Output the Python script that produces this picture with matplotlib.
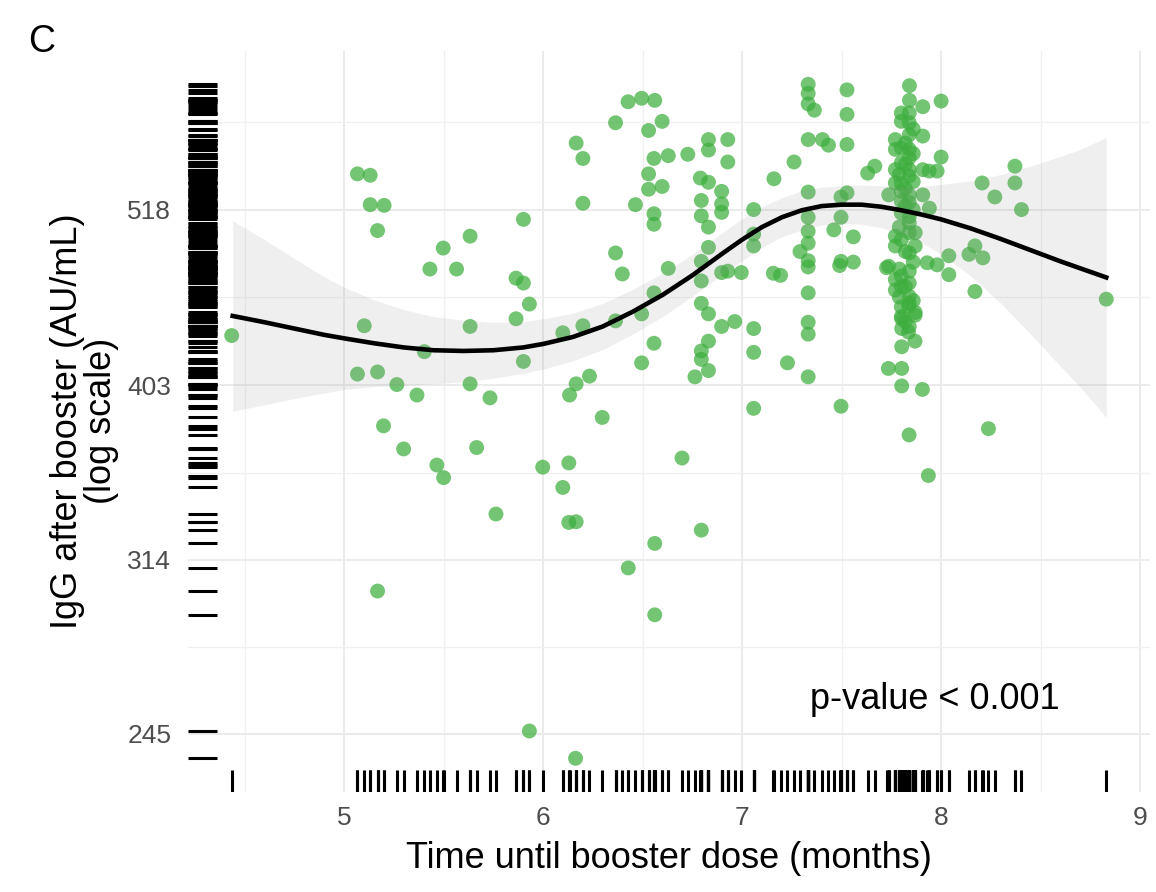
import numpy as np
import matplotlib.pyplot as plt

# months until booster / natural log of IgG after booster (AU/mL)
months = [
    4.435, 5.067, 5.131, 5.131, 5.201, 5.168, 5.101, 5.067, 5.168, 5.265,
    5.366, 5.431, 5.498, 5.565, 5.633, 5.633, 5.633, 5.733, 5.403, 5.901,
    5.864, 5.901, 5.931, 5.864, 5.901, 6.099, 6.166, 6.200, 6.200, 6.364,
    6.364, 6.398, 6.200, 6.364, 6.233, 6.166, 6.133, 5.198, 5.299, 5.666,
    5.466, 5.500, 5.998, 6.129, 6.099, 6.297, 5.763, 6.129, 6.166, 5.168,
    5.931, 6.163,
    6.427, 6.495, 6.561, 6.530, 6.598, 6.557, 6.629, 6.727, 6.530, 6.530,
    6.598, 6.464, 6.557, 6.557, 6.629, 6.557, 6.495, 6.557, 6.495, 6.831,
    6.831, 6.928, 6.928, 6.790, 6.831, 6.897, 6.795, 6.897, 6.897, 6.795,
    6.831, 6.831, 6.795, 6.897, 6.996, 6.795, 6.795, 6.831, 6.897, 6.963,
    6.831, 6.795, 6.795, 6.831, 6.763, 6.928, 7.058, 7.058, 7.058, 7.160,
    7.261, 7.157, 7.193, 7.058, 7.058, 7.228, 7.058, 7.332, 7.332, 7.332,
    7.363, 7.527, 7.527, 7.527, 7.332, 7.404, 7.434, 7.332, 7.332, 7.332,
    7.332, 7.291, 7.332, 7.332, 7.332, 7.332, 7.332, 7.332, 7.497, 7.527,
    7.497, 7.461, 7.559, 7.497, 7.559, 7.497, 7.631, 7.667, 7.490,
    6.698, 6.795, 6.561, 6.428, 6.561,
    7.841, 7.841, 7.908, 8.000, 7.800, 7.840, 7.800, 7.840, 7.840, 7.908,
    7.770, 7.770, 7.800, 7.840, 7.840, 7.800, 8.000, 7.770, 7.840, 7.840,
    7.800, 7.908, 7.940, 7.980, 7.770, 7.820, 7.737, 7.800, 7.840, 7.800,
    7.840, 7.908, 7.941, 7.800, 7.840, 7.840, 7.770, 7.800, 7.840, 7.870,
    7.770, 7.840, 7.870, 7.737, 7.930, 7.980, 8.039, 8.039, 7.770, 7.800,
    7.840, 7.840, 7.770, 7.800, 7.840, 7.800, 7.840, 7.870, 7.800, 7.840,
    7.836, 7.869, 7.802, 7.802, 7.836, 7.869, 7.802, 7.735, 7.802, 7.802,
    7.906, 7.839, 7.936, 7.726,
    7.820, 7.860, 7.790, 7.860, 7.820, 7.860, 7.790, 7.820, 7.860, 7.790,
    7.820, 7.860, 7.790, 7.820, 7.860, 7.820,
    8.140, 8.170, 8.210, 8.170, 8.206, 8.270, 8.371, 8.371, 8.404, 8.830,
    8.238,
]
log_igg = [
    6.070, 6.301, 6.299, 6.257, 6.256, 6.220, 6.084, 6.015, 6.018, 6.000,
    5.985, 6.165, 6.195, 6.165, 6.212, 6.083, 6.001, 5.981, 6.047, 6.236,
    6.152, 6.145, 6.115, 6.094, 6.033, 6.074, 6.345, 6.323, 6.259, 6.374,
    6.188, 6.158, 6.084, 6.091, 6.012, 6.001, 5.985, 5.941, 5.908, 5.910,
    5.885, 5.867, 5.882, 5.888, 5.853, 5.953, 5.815, 5.803, 5.804, 5.705,
    5.505, 5.466,
    6.404, 6.409, 6.406, 6.363, 6.376, 6.323, 6.327, 6.329, 6.301, 6.279,
    6.283, 6.257, 6.244, 6.229, 6.166, 6.131, 6.101, 6.059, 6.031, 6.350,
    6.335, 6.350, 6.318, 6.295, 6.289, 6.276, 6.263, 6.258, 6.246, 6.241,
    6.225, 6.196, 6.176, 6.160, 6.160, 6.148, 6.116, 6.101, 6.083, 6.090,
    6.062, 6.048, 6.036, 6.020, 6.011, 6.162, 6.250, 6.215, 6.198, 6.294,
    6.318, 6.159, 6.156, 6.080, 6.046, 6.031, 5.966, 6.429, 6.416, 6.401,
    6.392, 6.421, 6.386, 6.343, 6.350, 6.350, 6.342, 6.275, 6.239, 6.219,
    6.202, 6.190, 6.177, 6.168, 6.131, 6.089, 6.072, 6.011, 6.268, 6.274,
    6.239, 6.221, 6.211, 6.176, 6.175, 5.969, 6.302, 6.312, 6.170,
    5.895, 5.792, 5.773, 5.738, 5.671,
    6.427, 6.406, 6.397, 6.405, 6.388, 6.388, 6.376, 6.374, 6.357, 6.355,
    6.350, 6.336, 6.338, 6.336, 6.324, 6.317, 6.325, 6.307, 6.307, 6.298,
    6.288, 6.307, 6.305, 6.305, 6.288, 6.280, 6.271, 6.276, 6.271, 6.262,
    6.260, 6.271, 6.252, 6.245, 6.240, 6.231, 6.212, 6.207, 6.217, 6.217,
    6.198, 6.188, 6.198, 6.169, 6.174, 6.171, 6.184, 6.157, 6.150, 6.155,
    6.162, 6.145, 6.135, 6.140, 6.126, 6.111, 6.116, 6.103, 6.097, 6.083,
    6.112, 6.099, 6.094, 6.080, 6.075, 6.062, 6.054, 6.023, 6.023, 5.998,
    5.993, 5.928, 5.870, 6.167,
    6.345, 6.330, 6.300, 6.290, 6.255, 6.250, 6.225, 6.190, 6.175, 6.165,
    6.140, 6.120, 6.125, 6.090, 6.365, 6.315,
    6.186, 6.198, 6.181, 6.133, 6.288, 6.268, 6.312, 6.288, 6.250, 6.122,
    5.937,
]

# smoother (line and confidence band)
curve_months = [4.44, 4.6, 4.75, 4.9, 5.0, 5.15, 5.3, 5.45, 5.6, 5.75, 5.9, 6.0,
                6.15, 6.3, 6.45, 6.6, 6.75, 6.9, 7.0, 7.1, 7.2, 7.3, 7.4, 7.5,
                7.6, 7.7, 7.8, 7.9, 8.0, 8.15, 8.3, 8.45, 8.6, 8.7, 8.83]
curve_log = [6.098, 6.089, 6.080, 6.071, 6.066, 6.059, 6.053, 6.049, 6.048, 6.049,
             6.053, 6.058, 6.068, 6.083, 6.104, 6.128, 6.156, 6.187, 6.207, 6.225,
             6.239, 6.249, 6.255, 6.257, 6.257, 6.254, 6.249, 6.243, 6.236, 6.223,
             6.208, 6.192, 6.176, 6.166, 6.153]
band_half = [0.136, 0.118, 0.100, 0.083, 0.073, 0.062, 0.054, 0.048, 0.044, 0.040,
             0.037, 0.036, 0.034, 0.033, 0.032, 0.031, 0.030, 0.030, 0.030, 0.029,
             0.028, 0.028, 0.027, 0.027, 0.028, 0.030, 0.033, 0.040, 0.050, 0.068,
             0.092, 0.120, 0.150, 0.170, 0.200]

x_ticks = [5, 6, 7, 8, 9]
y_ticks = [245, 314, 403, 518]

plt.rcParams['font.family'] = ['Liberation Sans', 'DejaVu Sans']

fig = plt.figure(figsize=(11.56, 8.92), dpi=100)
ax = fig.add_axes([0.1626, 0.1121, 0.8322, 0.8312])

x = np.array(months)
y = np.array(log_igg)
xpad = (x.max() - x.min()) * 0.05
ypad = (y.max() - y.min()) * 0.05
ax.set_xlim(x.min() - xpad, x.max() + xpad)
ax.set_ylim(y.min() - ypad, y.max() + ypad)

# grid like theme_minimal
xt = np.array(x_ticks, dtype=float)
yt = np.log(y_ticks)
ax.set_xticks(xt)
ax.set_xticks(np.append(xt[0] - 0.5, (xt[:-1] + xt[1:]) / 2), minor=True)
ax.set_yticks(yt)
ax.set_yticks(np.append((yt[:-1] + yt[1:]) / 2, yt[-1] + (yt[-1] - yt[-2]) / 2), minor=True)
ax.set_yticklabels([str(v) for v in y_ticks])
ax.grid(which='major', color='#EBEBEB', lw=1.4)
ax.grid(which='minor', color='#F0F0F0', lw=1.0)
ax.set_axisbelow(True)
for s in ax.spines.values():
    s.set_visible(False)
ax.tick_params(which='both', length=0, labelsize=19, colors='#4D4D4D')
ax.tick_params(axis='x', pad=10)
ax.tick_params(axis='y', pad=12)

ax.scatter(x, y, s=115, color='#3DAE3D', alpha=0.72, edgecolors='none', zorder=3)

cm = np.array(curve_months)
cl = np.array(curve_log)
bh = np.array(band_half)
ax.fill_between(cm, cl - bh, cl + bh, color='#999999', alpha=0.15, lw=0, zorder=4)
ax.plot(cm, cl, color='black', lw=3.3, zorder=5)

# rugs
ax.vlines(x, 0, 0.03, transform=ax.get_xaxis_transform(), color='black', lw=2.2, zorder=5)
ax.hlines(y, 0, 0.03, transform=ax.get_yaxis_transform(), color='black', lw=2.2, zorder=5)

ax.text(7.97, 5.55, 'p-value < 0.001', fontsize=26, ha='center', va='center')

ax.set_xlabel('Time until booster dose (months)', fontsize=26, labelpad=8)
ax.set_ylabel('IgG after booster (AU/mL)\n(log scale)', fontsize=26, labelpad=6, linespacing=0.95)
fig.text(0.024, 0.953, 'C', fontsize=27, va='center', ha='left')

fig.savefig('out.png', dpi=100)
